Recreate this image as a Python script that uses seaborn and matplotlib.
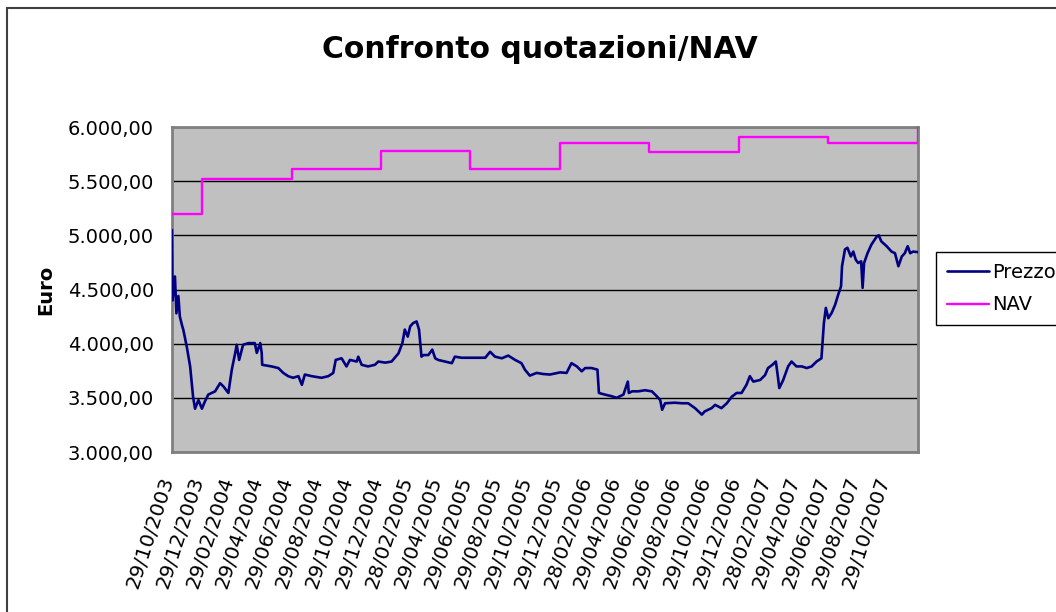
#!/usr/bin/env python3
import matplotlib

matplotlib.use("Agg")
import matplotlib.pyplot as plt
import pandas as pd
import seaborn as sns
from matplotlib.patches import Rectangle
from matplotlib.transforms import ScaledTranslation

# --------------------------------------------
# DATA
# --------------------------------------------
TITLE = "Confronto quotazioni/NAV"

prezzo_2003_dates = [
    "2003-10-29", "2003-10-30", "2003-11-04", "2003-11-07", "2003-11-11",
    "2003-11-14", "2003-11-19", "2003-11-21", "2003-11-28", "2003-12-05",
    "2003-12-11", "2003-12-15", "2003-12-22", "2003-12-29",
]
prezzo_2003_values = [
    5050, 4400, 4620, 4280, 4440, 4250, 4160, 4130, 3975, 3790,
    3510, 3400, 3480, 3400,
]

prezzo_2004_dates = [
    "2004-01-04", "2004-01-11", "2004-01-25", "2004-02-04", "2004-02-11",
    "2004-02-21", "2004-02-28", "2004-03-06", "2004-03-09", "2004-03-14",
    "2004-03-22", "2004-04-02", "2004-04-15", "2004-04-19", "2004-04-26",
    "2004-04-29", "2004-04-30", "2004-05-19", "2004-06-02", "2004-06-12",
    "2004-06-22", "2004-07-02", "2004-07-13", "2004-07-20", "2004-07-26",
    "2004-08-09", "2004-08-29", "2004-09-12", "2004-09-22", "2004-09-27",
    "2004-10-09", "2004-10-19", "2004-10-26", "2004-11-09", "2004-11-12",
    "2004-11-19", "2004-12-02", "2004-12-16", "2004-12-23",
]
prezzo_2004_values = [
    3465, 3530, 3560, 3635, 3605, 3545, 3760, 3915, 3990, 3850,
    3990, 4005, 4005, 3915, 4005, 3915, 3805, 3790, 3775, 3730,
    3700, 3685, 3700, 3620, 3715, 3700, 3685, 3700, 3730, 3850,
    3865, 3790, 3850, 3835, 3880, 3805, 3790, 3805, 3835,
]

prezzo_2005_dates = [
    "2005-01-06", "2005-01-19", "2005-02-02", "2005-02-10", "2005-02-15",
    "2005-02-21", "2005-02-26", "2005-03-04", "2005-03-11", "2005-03-16",
    "2005-03-21", "2005-03-25", "2005-04-04", "2005-04-12", "2005-04-18",
    "2005-04-24", "2005-05-08", "2005-05-22", "2005-05-28", "2005-06-11",
    "2005-07-08", "2005-07-29", "2005-08-08", "2005-08-18", "2005-09-01",
    "2005-09-14", "2005-09-28", "2005-10-11", "2005-10-18", "2005-10-28",
    "2005-11-11", "2005-11-24", "2005-12-08", "2005-12-29",
]
prezzo_2005_values = [
    3825, 3835, 3910, 4005, 4130, 4065, 4160, 4190, 4205, 4130,
    3880, 3895, 3895, 3945, 3865, 3850, 3835, 3820, 3880, 3870,
    3870, 3870, 3925, 3880, 3865, 3890, 3850, 3820, 3760, 3705,
    3730, 3720, 3715, 3735,
]

prezzo_2006_dates = [
    "2006-01-11", "2006-01-21", "2006-02-01", "2006-02-11", "2006-02-18",
    "2006-03-03", "2006-03-15", "2006-03-18", "2006-03-30", "2006-04-13",
    "2006-04-23", "2006-05-07", "2006-05-16", "2006-05-18", "2006-05-25",
    "2006-06-06", "2006-06-20", "2006-07-04", "2006-07-14", "2006-07-21",
    "2006-07-25", "2006-07-31", "2006-08-20", "2006-09-03", "2006-09-16",
    "2006-09-30", "2006-10-14", "2006-10-20", "2006-11-03", "2006-11-10",
    "2006-11-23", "2006-12-04", "2006-12-14", "2006-12-24",
]
prezzo_2006_values = [
    3730, 3820, 3790, 3745, 3775, 3775, 3760, 3545, 3530, 3515,
    3500, 3530, 3650, 3545, 3560, 3560, 3570, 3560, 3515, 3480,
    3390, 3450, 3455, 3450, 3450, 3405, 3345, 3375, 3405, 3435,
    3405, 3450, 3510, 3545,
]

prezzo_2007_dates = [
    "2007-01-03", "2007-01-13", "2007-01-20", "2007-01-27", "2007-02-10",
    "2007-02-20", "2007-02-26", "2007-03-07", "2007-03-14", "2007-03-18",
    "2007-03-21", "2007-03-29", "2007-04-08", "2007-04-15", "2007-04-25",
    "2007-05-06", "2007-05-16", "2007-05-26", "2007-06-05", "2007-06-15",
    "2007-06-20", "2007-06-24", "2007-06-29", "2007-07-06", "2007-07-13",
    "2007-07-19", "2007-07-25", "2007-07-27", "2007-08-02", "2007-08-07",
    "2007-08-14", "2007-08-19", "2007-08-24", "2007-08-29", "2007-09-04",
    "2007-09-07", "2007-09-10", "2007-09-17", "2007-09-25", "2007-10-06",
    "2007-10-10", "2007-10-15", "2007-10-26", "2007-11-05", "2007-11-12",
    "2007-11-19", "2007-11-26", "2007-12-02", "2007-12-08", "2007-12-13",
    "2007-12-19", "2007-12-29",
]
prezzo_2007_values = [
    3545, 3620, 3700, 3650, 3665, 3710, 3775, 3805, 3835, 3700,
    3590, 3665, 3790, 3835, 3790, 3790, 3775, 3790, 3835, 3865,
    4190, 4330, 4235, 4285, 4360, 4450, 4530, 4715, 4870, 4885,
    4805, 4850, 4775, 4745, 4760, 4515, 4745, 4835, 4915, 4990,
    5000, 4945, 4900, 4850, 4835, 4715, 4805, 4835, 4900, 4835,
    4850, 4845,
]

# NAV changes every six months (step series)
nav_dates = [
    "2003-10-29", "2003-12-29", "2004-06-29", "2004-12-29", "2005-06-29",
    "2005-12-29", "2006-06-29", "2006-12-29", "2007-06-29", "2007-12-29",
]
nav_values = [5200, 5520, 5610, 5780, 5610, 5850, 5765, 5910, 5850, 6000]

tick_labels = [
    "29/10/2003", "29/12/2003", "29/02/2004", "29/04/2004", "29/06/2004",
    "29/08/2004", "29/10/2004", "29/12/2004", "28/02/2005", "29/04/2005",
    "29/06/2005", "29/08/2005", "29/10/2005", "29/12/2005", "28/02/2006",
    "29/04/2006", "29/06/2006", "29/08/2006", "29/10/2006", "29/12/2006",
    "28/02/2007", "29/04/2007", "29/06/2007", "29/08/2007", "29/10/2007",
]
axis_end = "29/12/2007"
y_ticks = [3000, 3500, 4000, 4500, 5000, 5500, 6000]

# --------------------------------------------
# BUILD FRAMES
# --------------------------------------------
prezzo = pd.DataFrame(
    {
        "data": pd.to_datetime(
            prezzo_2003_dates + prezzo_2004_dates + prezzo_2005_dates
            + prezzo_2006_dates + prezzo_2007_dates
        ),
        "euro": prezzo_2003_values + prezzo_2004_values + prezzo_2005_values
        + prezzo_2006_values + prezzo_2007_values,
    }
)
nav = pd.DataFrame({"data": pd.to_datetime(nav_dates), "euro": nav_values})


def euro_fmt(v: float) -> str:
    s = f"{v:,.2f}"
    return s.replace(",", "#").replace(".", ",").replace("#", ".")


# --------------------------------------------
# PLOT
# --------------------------------------------
sns.set_style("white")
plt.rcParams["font.family"] = ["DejaVu Sans"]
plt.rcParams["text.color"] = "black"
plt.rcParams["xtick.color"] = "black"
plt.rcParams["ytick.color"] = "black"

W, H = 1056, 612
fig = plt.figure(figsize=(W / 100, H / 100), dpi=100)
fig.patch.set_facecolor("white")

# outer chart border (Excel chart area)
fig.patches.append(
    Rectangle(
        (6.5 / W, -0.5), 2.0, 0.5 + 1 - 7.5 / H,
        transform=fig.transFigure, fill=False, edgecolor="#404040", lw=1.5,
    )
)

ax = fig.add_axes([172 / W, 1 - 452 / H, (918 - 172) / W, (452 - 127) / H])
ax.set_facecolor("#C0C0C0")
ax.set_axisbelow(True)

sns.lineplot(
    data=prezzo, x="data", y="euro", ax=ax, color="#000080",
    lw=1.9, label="Prezzo", zorder=3,
)
sns.lineplot(
    data=nav, x="data", y="euro", ax=ax, color="#FF00FF",
    lw=1.7, drawstyle="steps-post", label="NAV", zorder=3,
)

x_ticks = list(pd.to_datetime(tick_labels, format="%d/%m/%Y"))
x_end = pd.to_datetime(axis_end, format="%d/%m/%Y")
ax.set_xlim(x_ticks[0], x_end)
ax.set_xticks(x_ticks + [x_end])
ax.set_xticklabels(tick_labels + [""], fontsize=14.5)

ax.set_ylim(3000, 6000)
ax.set_yticks(y_ticks)
ax.set_yticklabels([euro_fmt(v) for v in y_ticks], fontsize=14)

ax.grid(axis="y", color="black", lw=1)
ax.grid(axis="x", visible=False)
ax.set_xlabel("")
ax.set_ylabel("")

for side in ["left", "right", "top", "bottom"]:
    ax.spines[side].set_color("#808080")
    ax.spines[side].set_linewidth(2)

ax.tick_params(axis="y", direction="out", length=5, width=1, color="black", pad=8)
ax.tick_params(axis="x", direction="out", length=5, width=1, color="black", pad=11)

shift = ScaledTranslation(5 / 100, 0, fig.dpi_scale_trans)
for lab in ax.get_xticklabels():
    lab.set_rotation(72)
    lab.set_ha("right")
    lab.set_va("top")
    lab.set_transform(lab.get_transform() + shift)

fig.text(540 / W, 1 - 50 / H, TITLE, ha="center", va="center",
         fontsize=21.5, fontweight="bold")
fig.text(46 / W, 1 - 290 / H, "Euro", ha="center", va="center",
         rotation=90, fontsize=14, fontweight="bold")

leg = ax.legend(
    loc="upper left",
    bbox_to_anchor=(936 / W, 1 - 252 / H),
    bbox_transform=fig.transFigure,
    borderaxespad=0,
    frameon=True,
    fancybox=False,
    framealpha=1,
    edgecolor="black",
    fontsize=14,
    handlelength=2.2,
    handletextpad=0.15,
    labelspacing=0.7,
    borderpad=0.55,
)
leg.get_frame().set_linewidth(1)

fig.savefig("out.png", dpi=100)
plt.close(fig)
